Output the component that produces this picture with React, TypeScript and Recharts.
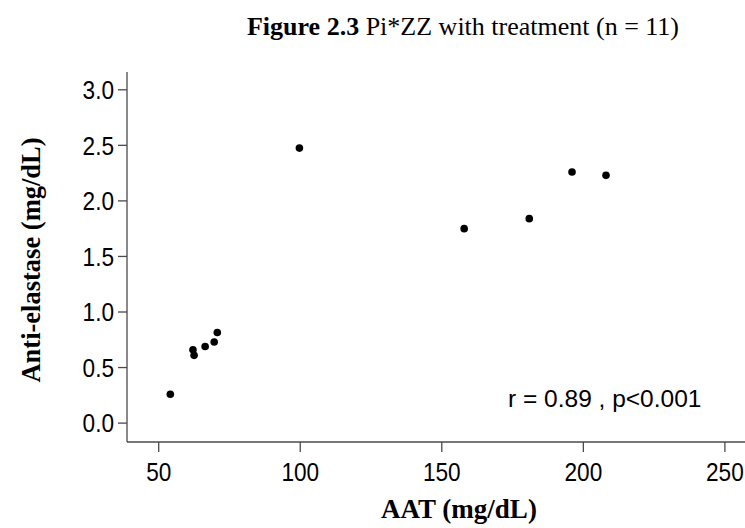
import React from 'react';
import { ScatterChart, Scatter, XAxis, YAxis } from 'recharts';

const aatValues = [54.1, 62.1, 62.5, 66.4, 69.6, 70.7, 99.7, 157.9, 180.9, 196.0, 208.0];
const antiElastaseValues = [0.26, 0.66, 0.61, 0.69, 0.73, 0.815, 2.475, 1.75, 1.84, 2.26, 2.23];
const xTicks = [50, 100, 150, 200, 250];
const yTicks = [0, 0.5, 1, 1.5, 2, 2.5, 3];

const titleBold = 'Figure 2.3';
const titleRest = ' Pi*ZZ with treatment (n = 11)';
const xLabel = 'AAT (mg/dL)';
const yLabel = 'Anti-elastase (mg/dL)';
const annotation = 'r = 0.89 , p<0.001';

const data = aatValues.map((x, i) => ({ x, y: antiElastaseValues[i] }));

const SANS = '"Liberation Sans", Arial, sans-serif';
const SERIF = '"Liberation Serif", "Times New Roman", serif';
const AXIS = '#4a4a4a';
const TICK_FONT = 26;
const SQUEEZE = 0.87;

const Dot = (props: any) => <circle cx={props.cx} cy={props.cy} r={3.8} fill="#000" />;

const XTick = (props: any) => {
  const { x, y, payload } = props;
  return (
    <g transform={`translate(${x},${y}) scale(${SQUEEZE},1)`}>
      <text x={0} y={0} dy="0.71em" textAnchor="middle" fontFamily={SANS} fontSize={TICK_FONT} fill="#000">
        {payload.value}
      </text>
    </g>
  );
};

const YTick = (props: any) => {
  const { x, y, payload } = props;
  return (
    <g transform={`translate(${x},${y}) scale(${SQUEEZE},1)`}>
      <text x={0} y={0} dy="0.355em" textAnchor="end" fontFamily={SANS} fontSize={TICK_FONT} fill="#000">
        {Number(payload.value).toFixed(1)}
      </text>
    </g>
  );
};

export default function App() {
  return (
    <div style={{ position: 'absolute', left: 0, top: 0, width: 745, height: 528, background: '#fff' }}>
      <ScatterChart width={745} height={528} margin={{ top: 72, right: 0, bottom: 0, left: 0 }}>
        <XAxis
          type="number"
          dataKey="x"
          domain={[38.8, 257.1]}
          ticks={xTicks}
          allowDataOverflow
          height={86}
          tickSize={10}
          tickMargin={11}
          stroke={AXIS}
          strokeWidth={1.3}
          tick={XTick}
        />
        <YAxis
          type="number"
          dataKey="y"
          domain={[-0.17, 3.16]}
          ticks={yTicks}
          allowDataOverflow
          width={127}
          tickSize={9}
          tickMargin={4}
          stroke={AXIS}
          strokeWidth={1.3}
          tick={YTick}
        />
        <Scatter data={data} fill="#000" shape={Dot} isAnimationActive={false} />
      </ScatterChart>
      <svg width={745} height={528} style={{ position: 'absolute', left: 0, top: 0, pointerEvents: 'none' }}>
        <text x={463} y={35} textAnchor="middle" fontFamily={SERIF} fontSize={26} fill="#000">
          <tspan fontWeight="bold">{titleBold}</tspan>
          <tspan>{titleRest}</tspan>
        </text>
        <text x={459} y={518} textAnchor="middle" fontFamily={SERIF} fontSize={27} fontWeight="bold" fill="#000">
          {xLabel}
        </text>
        <text
          x={40}
          y={260}
          transform="rotate(-90 40 260)"
          textAnchor="middle"
          fontFamily={SERIF}
          fontSize={26.5}
          fontWeight="bold"
          fill="#000"
        >
          {yLabel}
        </text>
        <text x={508} y={406.7} fontFamily={SANS} fontSize={24.5} fill="#000">
          {annotation}
        </text>
      </svg>
    </div>
  );
}
